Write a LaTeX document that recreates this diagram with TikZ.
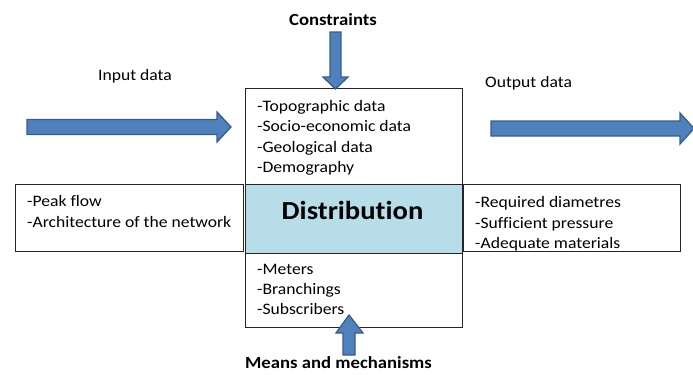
\documentclass[tikz,border=0pt]{standalone}
\usepackage{fontspec}
\setmainfont{Carlito}[FakeStretch=1.1, Ligatures=NoCommon]
\definecolor{arrowfill}{HTML}{4F81BD}
\definecolor{arrowedge}{HTML}{385D8A}
\definecolor{distfill}{HTML}{B7DEE8}
\begin{document}
\begin{tikzpicture}[x=1bp,y=-1bp,
  box/.style={draw=black!85, line width=0.8bp, inner sep=0},
  txt/.style={anchor=base west, inner sep=0, font=\fontsize{16bp}{19bp}\selectfont},
  ttl/.style={anchor=base, inner sep=0, font=\fontsize{17bp}{20bp}\selectfont\bfseries},
  blk/.style={fill=arrowfill, draw=arrowedge, line width=1.3bp, line join=miter}]
\useasboundingbox (0,0) rectangle (693,374);
% boxes
\node[box, minimum width=217bp, minimum height=96bp] (topbox) at (353.5,136) {};
\node[box, fill=distfill, minimum width=217bp, minimum height=69bp] (dist) at (353.5,218.5) {};
\node[box, minimum width=217bp, minimum height=74bp] (botbox) at (353.5,290) {};
\node[box, minimum width=228bp, minimum height=67bp] (leftbox) at (129,217.5) {};
\node[box, minimum width=217bp, minimum height=67bp] (rightbox) at (571.5,217.5) {};
% texts
\node[anchor=base, inner sep=0, font=\fontsize{26bp}{30bp}\selectfont\bfseries] (distlabel) at (352.5,219) {Distribution};
\node[txt] (t1) at (257,111) {-Topographic data};
\node[txt] (t2) at (257,131) {-Socio-economic data};
\node[txt] (t3) at (257,152) {-Geological data};
\node[txt] (t4) at (257,172) {-Demography};
\node[txt] (l1) at (27,206) {-Peak flow};
\node[txt] (l2) at (27,227) {-Architecture of the network};
\node[txt] (r1) at (475,207) {-Required diametres};
\node[txt] (r2) at (475,228) {-Sufficient pressure};
\node[txt] (r3) at (475,248) {-Adequate materials};
\node[txt] (b1) at (257,274) {-Meters};
\node[txt] (b2) at (257,294) {-Branchings};
\node[txt] (b3) at (257,314) {-Subscribers};
\node[txt] (inp) at (98,80) {Input data};
\node[txt] (outp) at (485,87) {Output data};
\node[ttl] (cons) at (333,25) {Constraints};
\node[ttl] (means) at (338.5,368) {Means and mechanisms};
% block arrows
\draw[blk] (27,119.5) -- (217,119.5) -- (217,112) -- (231,127) -- (217,142) -- (217,134.5) -- (27,134.5) -- cycle;
\draw[blk] (491,121) -- (680,121) -- (680,113) -- (694,128.5) -- (680,144) -- (680,136) -- (491,136) -- cycle;
\draw[blk] (330,32) -- (341,32) -- (341,77) -- (348,77) -- (335.5,89) -- (323,77) -- (330,77) -- cycle;
\draw[blk] (343,355) -- (355,355) -- (355,333) -- (363,333) -- (349,315) -- (336,333) -- (343,333) -- cycle;
\end{tikzpicture}
\end{document}
